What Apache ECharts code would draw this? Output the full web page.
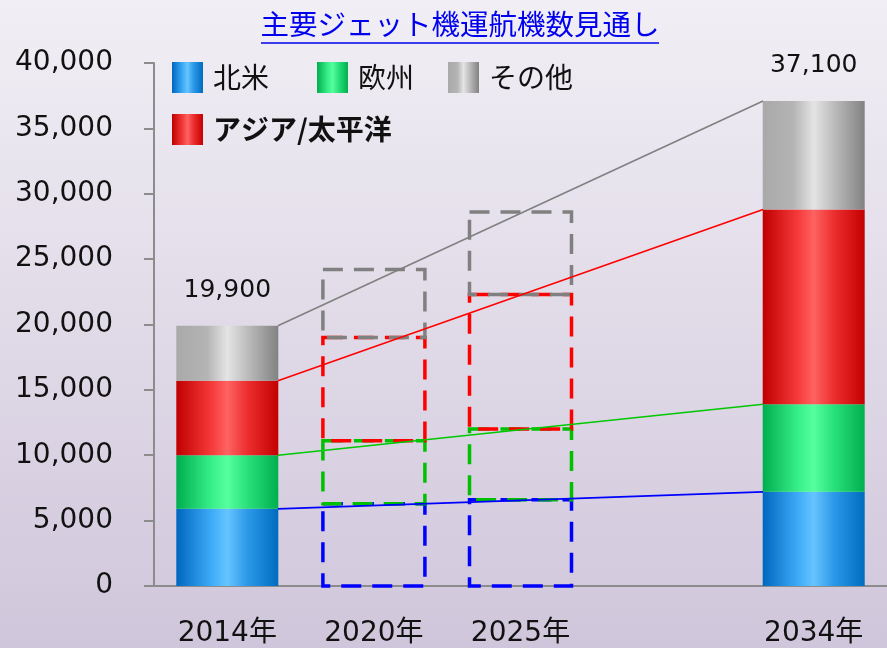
<!DOCTYPE html>
<html>
<head>
<meta charset="utf-8">
<script src="https://cdn.jsdelivr.net/npm/echarts@6/dist/echarts.min.js"></script>
<style>
html,body{margin:0;padding:0;}
#main{width:887px;height:648px;}
</style>
</head>
<body>
<div id="main"></div>
<script>
// ---- data ----
const categories = ['2014年', '2020年', '2025年', '', '2034年'];
const northAmerica = [5900, 6300, 6600, null, 7200];
const europe = [4100, 4800, 5400, null, 6700];
const asiaPacific = [5700, 7900, 10300, null, 14900];
const others = [4200, 5200, 6300, null, 8300];
const seriesNames = ['北米', '欧州', 'アジア/太平洋', 'その他'];
const forecastCategories = ['2020年', '2025年'];
const yTicks = [0, 5000, 10000, 15000, 20000, 25000, 30000, 35000, 40000];

// ---- styling ----
const FONT = 'DejaVu Sans, Noto Sans CJK JP, sans-serif';
const CJK = 'Noto Sans CJK JP, DejaVu Sans, sans-serif';
const gridLeft = 154, gridWidth = 738, gridTop = 63, gridBottom = 62;
const barWidth = 102;
const catW = gridWidth / categories.length;
const hw = barWidth / 2 / catW;

function grad(stops) {
  return new echarts.graphic.LinearGradient(0, 0, 1, 0,
    stops.map(s => ({ offset: s[0], color: s[1] })));
}
const fills = [
  grad([[0, '#0066bf'], [0.35, '#3eacf8'], [0.5, '#66c4ff'], [0.7, '#2c98e8'], [1, '#006cbe']]),
  grad([[0, '#00ae4e'], [0.35, '#38f08a'], [0.5, '#55ff9e'], [0.7, '#28e07a'], [1, '#00b04e']]),
  grad([[0, '#c00000'], [0.35, '#f63b3b'], [0.5, '#ff6262'], [0.7, '#ec2e2e'], [1, '#c40000']]),
  grad([[0, '#a9a9a9'], [0.3, '#b4b4b4'], [0.5, '#e4e4e4'], [0.75, '#b2b2b2'], [1, '#828282']])
];
const lineColors = ['#0000ff', '#00c800', '#ff0000', '#808080'];
const dashColors = ['#0000ff', '#00c000', '#ff0000', '#808080'];

const raw = [northAmerica, europe, asiaPacific, others];
const totals = categories.map((c, i) => raw.reduce((s, a) => s + (a[i] || 0), 0));
const cumTo = (k, i) => raw.slice(0, k + 1).reduce((s, a) => s + (a[i] || 0), 0);
function fmt(n) { return String(n).replace(/\B(?=(\d{3})+(?!\d))/g, ','); }
const isForecast = (i) => forecastCategories.includes(categories[i]);

// solid stacked bars (actual / far forecast)
const barSeries = raw.map((arr, k) => ({
  name: seriesNames[k],
  type: 'bar',
  stack: 'total',
  barWidth: barWidth,
  xAxisIndex: 0,
  itemStyle: { color: fills[k] },
  emphasis: { disabled: true },
  z: 2,
  data: arr.map((v, i) => {
    if (v == null || isForecast(i)) return '-';
    const item = { value: v };
    if (k === raw.length - 1) {
      item.label = {
        show: true, position: 'top', distance: 23,
        formatter: () => fmt(totals[i]),
        fontFamily: FONT, fontSize: 25, color: '#111'
      };
    }
    return item;
  })
}));

// dashed outline boxes for intermediate forecasts
const dashSeries = raw.map((arr, k) => ({
  type: 'custom',
  xAxisIndex: 0,
  silent: true,
  z: 3,
  renderItem: (params, api) => {
    const i = api.value(0);
    const p0 = api.coord([i, api.value(1)]);
    const p1 = api.coord([i, api.value(2)]);
    return {
      type: 'rect',
      shape: { x: p0[0] - barWidth / 2, y: p1[1], width: barWidth, height: p0[1] - p1[1] },
      style: { fill: 'none', stroke: dashColors[k], lineWidth: 3.5, lineDash: [20, 11] }
    };
  },
  data: categories.map((c, i) => i).filter(isForecast)
    .map(i => [i, cumTo(k - 1, i), cumTo(k, i)])
}));

// lines joining first segment tops to last segment tops
const firstIdx = 0, lastIdx = categories.length - 1;
const lineSeries = raw.map((arr, k) => ({
  type: 'line',
  xAxisIndex: 1,
  symbol: 'none',
  silent: true,
  z: 5,
  lineStyle: { color: lineColors[k], width: 1.6 },
  data: [[firstIdx + 0.5 + hw, cumTo(k, firstIdx)], [lastIdx + 0.5 - hw, cumTo(k, lastIdx)]]
}));

const legendBase = {
  icon: 'rect', itemWidth: 31, itemHeight: 31, selectedMode: false, padding: 0,
  textStyle: { fontFamily: CJK, fontSize: 28, color: '#111', padding: [0, 0, 0, 5] }
};

const option = {
  backgroundColor: new echarts.graphic.LinearGradient(0, 0, 0, 1, [
    { offset: 0, color: '#f1eff5' }, { offset: 1, color: '#d0c6db' }
  ]),
  animation: false,
  title: {
    text: '主要ジェット機運航機数見通し',
    left: 460, top: 10, textAlign: 'center', padding: 0,
    textStyle: { fontFamily: CJK, fontSize: 28.5, fontWeight: 'normal', color: '#0000ee' }
  },
  graphic: [{
    type: 'line', shape: { x1: 261, y1: 43, x2: 659, y2: 43 },
    style: { stroke: '#0000ee', lineWidth: 1.6 }, silent: true
  }],
  legend: [
    Object.assign({}, legendBase, { data: ['北米'], left: 172, top: 62 }),
    Object.assign({}, legendBase, { data: ['欧州'], left: 317, top: 62 }),
    Object.assign({}, legendBase, { data: ['その他'], left: 448, top: 62 }),
    Object.assign({}, legendBase, { data: ['アジア/太平洋'], left: 172, top: 114,
      textStyle: Object.assign({}, legendBase.textStyle, { fontWeight: 'bold' }) })
  ],
  grid: { left: gridLeft, width: gridWidth, top: gridTop, bottom: gridBottom, containLabel: false },
  xAxis: [{
    type: 'category',
    data: categories,
    axisLine: { lineStyle: { color: '#8c8c8c', width: 2 } },
    axisTick: { length: 10, lineStyle: { color: '#8c8c8c', width: 2 } },
    axisLabel: { fontFamily: FONT, fontSize: 28, color: '#111', margin: 34 }
  }, {
    type: 'value', min: 0, max: categories.length, show: false
  }],
  yAxis: {
    type: 'value',
    min: yTicks[0], max: yTicks[yTicks.length - 1], interval: yTicks[1] - yTicks[0],
    axisLine: { show: true, lineStyle: { color: '#8c8c8c', width: 2 } },
    axisTick: { show: true, length: 10, lineStyle: { color: '#8c8c8c', width: 2 } },
    splitLine: { show: false },
    axisLabel: { fontFamily: FONT, fontSize: 28, color: '#111', margin: 41, formatter: v => fmt(v) }
  },
  series: barSeries.concat(dashSeries, lineSeries)
};

const chart = echarts.init(document.getElementById('main'));
chart.setOption(option);
</script>
</body>
</html>
